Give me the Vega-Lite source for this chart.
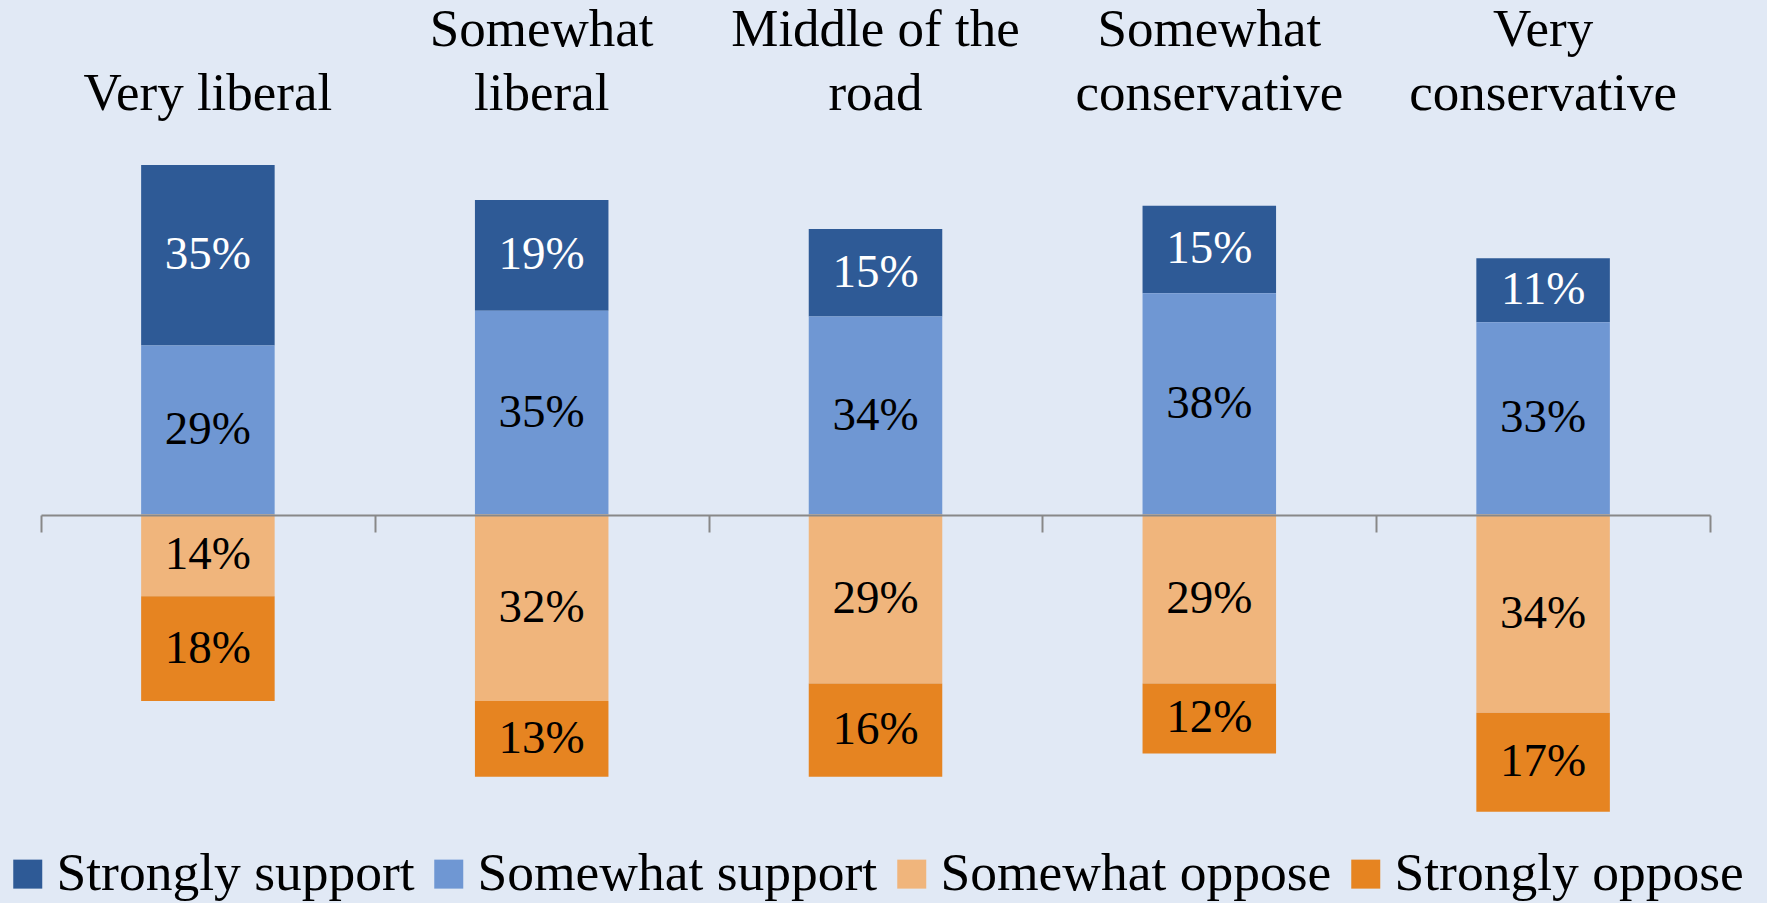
{
  "$schema": "https://vega.github.io/schema/vega-lite/v6.json",
  "width": 1669,
  "height": 670,
  "autosize": {"type": "none"},
  "padding": {"left": 41, "top": 165, "right": 57, "bottom": 68},
  "background": "#E1E9F5",
  "config": {"view": {"stroke": null}},
  "data": {
    "values": [
      {"group": "Very liberal", "type": "Strongly support", "value": 31, "label": "35%"},
      {"group": "Very liberal", "type": "Somewhat support", "value": 29, "label": "29%"},
      {"group": "Very liberal", "type": "Somewhat oppose", "value": 14, "label": "14%"},
      {"group": "Very liberal", "type": "Strongly oppose", "value": 18, "label": "18%"},
      {"group": "Somewhat liberal", "type": "Strongly support", "value": 19, "label": "19%"},
      {"group": "Somewhat liberal", "type": "Somewhat support", "value": 35, "label": "35%"},
      {"group": "Somewhat liberal", "type": "Somewhat oppose", "value": 32, "label": "32%"},
      {"group": "Somewhat liberal", "type": "Strongly oppose", "value": 13, "label": "13%"},
      {"group": "Middle of the road", "type": "Strongly support", "value": 15, "label": "15%"},
      {"group": "Middle of the road", "type": "Somewhat support", "value": 34, "label": "34%"},
      {"group": "Middle of the road", "type": "Somewhat oppose", "value": 29, "label": "29%"},
      {"group": "Middle of the road", "type": "Strongly oppose", "value": 16, "label": "16%"},
      {"group": "Somewhat conservative", "type": "Strongly support", "value": 15, "label": "15%"},
      {"group": "Somewhat conservative", "type": "Somewhat support", "value": 38, "label": "38%"},
      {"group": "Somewhat conservative", "type": "Somewhat oppose", "value": 29, "label": "29%"},
      {"group": "Somewhat conservative", "type": "Strongly oppose", "value": 12, "label": "12%"},
      {"group": "Very conservative", "type": "Strongly support", "value": 11, "label": "11%"},
      {"group": "Very conservative", "type": "Somewhat support", "value": 33, "label": "33%"},
      {"group": "Very conservative", "type": "Somewhat oppose", "value": 34, "label": "34%"},
      {"group": "Very conservative", "type": "Strongly oppose", "value": 17, "label": "17%"}
    ]
  },
  "transform": [
    {"calculate": "indexof(datum.type, 'oppose') >= 0 ? -datum.value : datum.value", "as": "signed"},
    {"stack": "signed", "groupby": ["group"], "sort": [{"field": "type", "order": "ascending"}], "as": ["v0", "v1"]},
    {"calculate": "(datum.v0 + datum.v1) / 2", "as": "mid"}
  ],
  "layer": [
    {
      "mark": {"type": "bar", "width": {"band": 0.4}},
      "encoding": {
        "x": {
          "field": "group",
          "type": "nominal",
          "sort": ["Very liberal", "Somewhat liberal", "Middle of the road", "Somewhat conservative", "Very conservative"],
          "scale": {"paddingInner": 0, "paddingOuter": 0},
          "axis": {
            "orient": "top",
            "title": null,
            "domain": false,
            "ticks": false,
            "tickSize": 0,
            "labelAngle": 0,
            "labelFont": "Liberation Serif",
            "labelFontSize": 53,
            "labelColor": "black",
            "labelLineHeight": 64,
            "labelBaseline": "bottom",
            "labelPadding": 109,
            "labelLimit": 0,
            "labelExpr": "datum.value == 'Very liberal' ? ['', 'Very liberal'] : datum.value == 'Middle of the road' ? ['Middle of the', 'road'] : split(datum.value, ' ')"
          }
        },
        "y": {
          "field": "v0",
          "type": "quantitative",
          "scale": {"domain": [-55, 60], "nice": false, "zero": false},
          "axis": null
        },
        "y2": {"field": "v1"},
        "color": {
          "field": "type",
          "type": "nominal",
          "scale": {
            "domain": ["Strongly support", "Somewhat support", "Somewhat oppose", "Strongly oppose"],
            "range": ["#2E5A96", "#6F97D3", "#F0B57C", "#E68421"]
          },
          "legend": {
            "title": null,
            "orient": "none",
            "legendX": -40,
            "legendY": 682,
            "direction": "horizontal",
            "columns": 4,
            "symbolType": "square",
            "symbolSize": 841,
            "symbolStrokeWidth": 0,
            "labelFont": "Liberation Serif",
            "labelFontSize": 53.5,
            "labelColor": "black",
            "labelOffset": 2,
            "labelLimit": 0,
            "columnPadding": 7,
            "encode": {
              "symbols": {
                "update": {
                  "fill": [
                    {"test": "datum.value == 'Strongly support'", "value": "#5B6DB5"},
                    {"scale": "color", "field": "value"}
                  ],
                  "opacity": {"value": 1}
                }
              }
            }
          }
        }
      }
    },
    {
      "mark": {"type": "text", "font": "Liberation Serif", "fontSize": 47, "baseline": "middle", "align": "center"},
      "encoding": {
        "x": {
          "field": "group",
          "type": "nominal",
          "sort": ["Very liberal", "Somewhat liberal", "Middle of the road", "Somewhat conservative", "Very conservative"],
          "axis": {
            "orient": "bottom",
            "title": null,
            "offset": -320,
            "labels": false,
            "domain": true,
            "domainColor": "#888888",
            "domainWidth": 2,
            "ticks": true,
            "tickBand": "extent",
            "tickSize": 17,
            "tickColor": "#888888",
            "tickWidth": 2,
            "grid": false,
            "zindex": 1
          }
        },
        "y": {"field": "mid", "type": "quantitative"},
        "text": {"field": "label"},
        "color": {
          "condition": {"test": "datum.type === 'Strongly support'", "value": "white"},
          "value": "black"
        }
      }
    }
  ],
  "resolve": {"axis": {"x": "independent"}}
}
